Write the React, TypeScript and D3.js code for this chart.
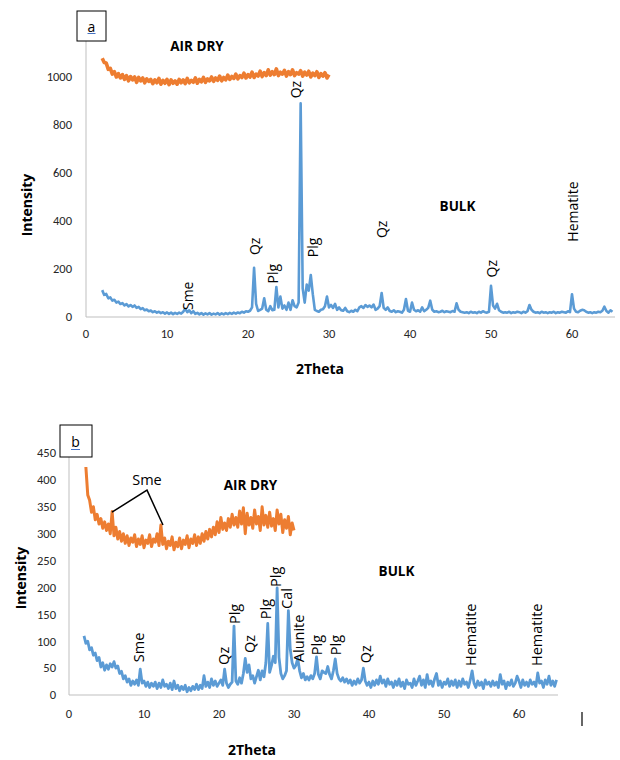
import React from 'react'
import * as d3 from 'd3'

// 2Theta sampling of the scans
const STEP = 0.25

// panel a — BULK, 2θ 2 → 65
const bulkA = [
  112, 92, 96, 78, 82, 68, 72, 60, 64, 54, 58, 48, 54, 44, 50, 42, 48, 38, 42, 33,
  37, 28, 31, 24, 27, 20, 24, 18, 22, 16, 20, 14, 19, 13, 18, 12, 17, 13, 18, 14,
  22, 34, 20, 28, 16, 24, 13, 17, 11, 16, 10, 15, 11, 16, 10, 14, 11, 16, 10, 15,
  11, 16, 12, 17, 13, 18, 14, 19, 16, 22, 18, 24, 22, 26, 40, 205, 55, 25, 30, 35,
  78, 30, 24, 45, 28, 30, 125, 40, 85, 35, 48, 30, 60, 30, 70, 45, 40, 60, 890, 120,
  60, 135, 110, 175, 95, 30, 25, 22, 30, 32, 45, 85, 40, 50, 38, 55, 30, 40, 28, 26,
  38, 24, 20, 26, 22, 30, 24, 40, 45, 38, 50, 42, 48, 40, 52, 30, 35, 45, 100, 38,
  30, 40, 25, 22, 28, 20, 24, 22, 18, 30, 75, 26, 22, 60, 30, 24, 28, 22, 40, 24,
  30, 38, 68, 30, 22, 24, 20, 22, 26, 20, 24, 22, 20, 25, 22, 57, 30, 22, 20, 18,
  20, 16, 22, 18, 20, 16, 22, 18, 24, 20, 18, 22, 130, 48, 35, 55, 28, 22, 18, 20,
  18, 22, 16, 20, 18, 22, 20, 16, 22, 18, 24, 50, 30, 22, 18, 20, 16, 22, 18, 20,
  16, 20, 18, 22, 16, 20, 18, 22, 20, 18, 24, 20, 95, 35, 22, 20, 26, 30, 28, 22,
  18, 20, 16, 20, 18, 22, 20, 26, 43, 25, 18, 28, 22,
]

// panel a — AIR DRY, 2θ 2 → 30
const airDryA = [
  1078, 1060, 1058, 1032, 1036, 1012, 1022, 1000, 1014, 996, 1010, 990, 1006, 984, 1002, 988, 1000, 978, 998, 984,
  996, 976, 992, 982, 990, 972, 988, 976, 994, 970, 986, 974, 990, 968, 988, 974, 984, 970, 990, 976,
  988, 972, 994, 976, 986, 978, 996, 974, 990, 980, 998, 978, 992, 984, 1000, 982, 996, 986, 1004, 984,
  998, 988, 1008, 990, 1002, 994, 1012, 992, 1006, 998, 1016, 996, 1010, 1000, 1020, 998, 1012, 1004, 1024, 1002,
  1018, 1006, 1030, 1008, 1022, 1010, 1034, 1006, 1020, 1012, 1028, 1004, 1022, 1010, 1030, 1006, 1018, 1012, 1026, 1004,
  1020, 1008, 1024, 1000, 1016, 1006, 1022, 998, 1014, 1004, 1018, 996, 1010,
]

// panel b — BULK, 2θ 2 → 65
const bulkB = [
  110, 96, 100, 84, 88, 74, 78, 64, 70, 52, 60, 46, 56, 48, 58, 52, 62, 50, 54, 40,
  44, 30, 36, 24, 30, 18, 26, 20, 28, 18, 48, 22, 26, 16, 24, 14, 22, 16, 24, 12,
  22, 14, 28, 16, 20, 12, 22, 10, 26, 12, 18, 8, 16, 10, 18, 6, 14, 8, 16, 10,
  20, 10, 18, 12, 36, 16, 24, 14, 30, 18, 26, 16, 22, 28, 18, 48, 22, 14, 20, 24,
  128, 26, 20, 32, 22, 40, 68, 42, 56, 30, 36, 22, 34, 46, 28, 45, 34, 60, 133, 42,
  55, 72, 60, 199, 70, 40, 30, 36, 45, 157, 85, 60, 50, 55, 68, 45, 32, 40, 28, 34,
  28, 36, 30, 40, 71, 38, 30, 45, 42, 40, 53, 38, 30, 45, 67, 40, 30, 26, 32, 24,
  30, 22, 28, 18, 26, 20, 30, 22, 28, 50, 26, 18, 24, 14, 26, 18, 28, 20, 35, 22,
  28, 16, 30, 20, 24, 14, 26, 18, 30, 16, 24, 12, 28, 20, 22, 14, 30, 18, 26, 35,
  18, 28, 14, 38, 20, 26, 16, 30, 40, 18, 26, 14, 24, 20, 30, 16, 26, 18, 28, 14,
  26, 16, 30, 20, 24, 14, 28, 45, 22, 14, 26, 18, 24, 12, 28, 20, 24, 16, 26, 18,
  24, 14, 38, 20, 26, 12, 24, 18, 28, 16, 22, 35, 26, 14, 28, 18, 24, 16, 28, 20,
  24, 16, 41, 22, 26, 14, 28, 20, 35, 18, 26, 16, 28,
]

// panel b — AIR DRY, 2θ 2.25 → 30
const airDryB = [
  424, 372, 362, 340, 350, 326, 336, 318, 328, 310, 322, 306, 318, 300, 341, 296, 312, 290, 304, 286,
  300, 282, 296, 278, 292, 284, 298, 276, 290, 280, 296, 274, 288, 282, 298, 276, 290, 284, 300, 278,
  316, 280, 292, 272, 286, 278, 294, 270, 284, 276, 292, 272, 288, 280, 296, 274, 290, 282, 298, 278,
  294, 282, 300, 286, 304, 290, 308, 294, 312, 298, 322, 302, 330, 308, 320, 306, 328, 312, 336, 316,
  330, 312, 342, 318, 348, 300, 338, 316, 330, 310, 344, 318, 332, 306, 350, 316, 334, 312, 340, 314,
  328, 306, 344, 318, 336, 302, 326, 310, 332, 298, 320, 306,
]

const xTicks = [0, 10, 20, 30, 40, 50, 60]
const yTicksA = [0, 200, 400, 600, 800, 1000]
const yTicksB = [0, 50, 100, 150, 200, 250, 300, 350, 400, 450]

// [label, 2θ of baseline, intensity at label foot]
const peaksA: [string, number, number][] = [
  ['Sme', 13.27, 29],
  ['Qz', 21.42, 258],
  ['Plg', 23.74, 140],
  ['Qz', 26.6, 911],
  ['Plg', 28.68, 249],
  ['Qz', 37.16, 329],
  ['Qz', 50.74, 165],
  ['Hematite', 60.68, 314],
]
const peaksB: [string, number, number][] = [
  ['Sme', 10.0, 61],
  ['Qz', 21.33, 56],
  ['Plg', 22.8, 132],
  ['Qz', 24.8, 78],
  ['Plg', 26.93, 141],
  ['Plg', 28.27, 201],
  ['Cal', 29.67, 160],
  ['Alunite', 31.33, 61],
  ['Plg', 33.73, 74],
  ['Plg', 36.27, 74],
  ['Qz', 40.33, 59],
  ['Hematite', 54.2, 54],
  ['Hematite', 63.13, 54],
]

const BLUE = '#5B9BD5'
const ORANGE = '#ED7D31'
const AXIS = '#BFBFBF'
const TICK_FONT = "'Liberation Sans Narrow', Carlito, 'Liberation Sans', sans-serif"
const LABEL_FONT = "'Open Sans', 'Noto Sans', sans-serif"

type PanelProps = {
  left: number
  right: number
  bottom: number
  top: number
  yMax: number
  axisRight: number
  yTicks: number[]
  tickRight: number
  tickBaseline: number
  bulk: number[]
  airDry: number[]
  airStart: number
  peaks: [string, number, number][]
  peakSize: number
  airWidth: number
  bulkWidth: number
  extra?: (x: d3.ScaleLinear<number, number>, y: d3.ScaleLinear<number, number>) => React.ReactNode
}

function Panel(p: PanelProps) {
  const x = d3.scaleLinear().domain([0, 65]).range([p.left, p.right])
  const y = d3.scaleLinear().domain([0, p.yMax]).range([p.bottom, p.top])
  const path = (start: number) =>
    d3
      .line<number>()
      .x((_, i) => x(start + i * STEP))
      .y((d) => y(d))

  return (
    <g>
      {/* axes */}
      <line x1={p.left} x2={p.left} y1={p.bottom} y2={p.top} stroke={AXIS} strokeWidth={1} />
      <line x1={p.left} x2={p.axisRight} y1={p.bottom} y2={p.bottom} stroke={AXIS} strokeWidth={1} />
      {p.yTicks.map((t) => (
        <text
          key={'y' + t}
          x={p.tickRight}
          y={y(t)}
          dy="0.35em"
          textAnchor="end"
          fontFamily={TICK_FONT}
          fontSize={12.5}
          fill="#262626"
        >
          {t}
        </text>
      ))}
      {xTicks.map((t) => (
        <text
          key={'x' + t}
          x={x(t)}
          y={p.tickBaseline}
          textAnchor="middle"
          fontFamily={TICK_FONT}
          fontSize={12.5}
          fill="#262626"
        >
          {t}
        </text>
      ))}
      <path d={path(p.airStart)(p.airDry) || ''} fill="none" stroke={ORANGE} strokeWidth={p.airWidth} strokeLinejoin="round" />
      <path d={path(2)(p.bulk) || ''} fill="none" stroke={BLUE} strokeWidth={p.bulkWidth} strokeLinejoin="round" />
      {p.peaks.map(([name, t, v], i) => (
        <text
          key={'p' + i}
          transform={`translate(${x(t)},${y(v)}) rotate(-90)`}
          fontFamily={LABEL_FONT}
          fontSize={p.peakSize}
          fill="#000"
        >
          {name}
        </text>
      ))}
      {p.extra ? p.extra(x, y) : null}
    </g>
  )
}

const bold = { fontFamily: LABEL_FONT, fontWeight: 700, fontSize: 13.5, fill: '#000' }

export default function App() {
  return (
    <svg
      width={620}
      height={760}
      style={{ position: 'absolute', left: 0, top: 0, background: '#fff' }}
    >
      <rect width={620} height={760} fill="#fff" />

      {/* panel a */}
      <Panel
        left={86}
        right={612.5}
        bottom={317}
        top={41}
        yMax={1150}
        axisRight={615}
        yTicks={yTicksA}
        tickRight={72}
        tickBaseline={338}
        bulk={bulkA}
        airDry={airDryA}
        airStart={2}
        peaks={peaksA}
        peakSize={14}
        airWidth={3.6}
        bulkWidth={2.6}
      />
      <rect x={77} y={11} width={29} height={30} fill="#fff" stroke="#000" strokeWidth={1} />
      <text x={91.5} y={31.5} textAnchor="middle" fontFamily={LABEL_FONT} fontSize={14} fill="#000">a</text>
      <line x1={87.5} x2={95.5} y1={33.5} y2={33.5} stroke="#4472C4" strokeWidth={1} />
      <text x={197} y={50.5} textAnchor="middle" style={bold}>AIR DRY</text>
      <text x={457.5} y={210.5} textAnchor="middle" style={bold}>BULK</text>
      <text transform="translate(31.5,205) rotate(-90)" textAnchor="middle" style={{ ...bold, fontSize: 14 }}>Intensity</text>
      <text x={320} y={374} textAnchor="middle" style={{ ...bold, fontSize: 14 }}>2Theta</text>

      {/* panel b */}
      <Panel
        left={69}
        right={556.5}
        bottom={695}
        top={453}
        yMax={450}
        axisRight={558}
        yTicks={yTicksB}
        tickRight={56}
        tickBaseline={718}
        bulk={bulkB}
        airDry={airDryB}
        airStart={2.25}
        peaks={peaksB}
        peakSize={14.5}
        airWidth={3}
        bulkWidth={2.8}
        extra={(x, y) => (
          <g>
            <text x={x(10.4)} y={y(390)} textAnchor="middle" fontFamily={LABEL_FONT} fontSize={14.5} fill="#000">Sme</text>
            <polyline
              points={`${x(5.73)},${y(340)} ${x(10.4)},${y(381)} ${x(12.53)},${y(316)}`}
              fill="none"
              stroke="#000"
              strokeWidth={1.5}
            />
          </g>
        )}
      />
      <rect x={60} y={425} width={32} height={32} fill="#fff" stroke="#000" strokeWidth={1} />
      <text x={75.5} y={447} textAnchor="middle" fontFamily={LABEL_FONT} fontSize={14} fill="#000">b</text>
      <line x1={71} x2={80} y1={449.5} y2={449.5} stroke="#4472C4" strokeWidth={1} />
      <text x={250.5} y={490} textAnchor="middle" style={bold}>AIR DRY</text>
      <text x={396.5} y={576} textAnchor="middle" style={bold}>BULK</text>
      <text transform="translate(26,578) rotate(-90)" textAnchor="middle" style={{ ...bold, fontSize: 14 }}>Intensity</text>
      <text x={252} y={755} textAnchor="middle" style={{ ...bold, fontSize: 14 }}>2Theta</text>
      <line x1={582} x2={582} y1={712} y2={726} stroke="#000" strokeWidth={1.2} />
    </svg>
  )
}
